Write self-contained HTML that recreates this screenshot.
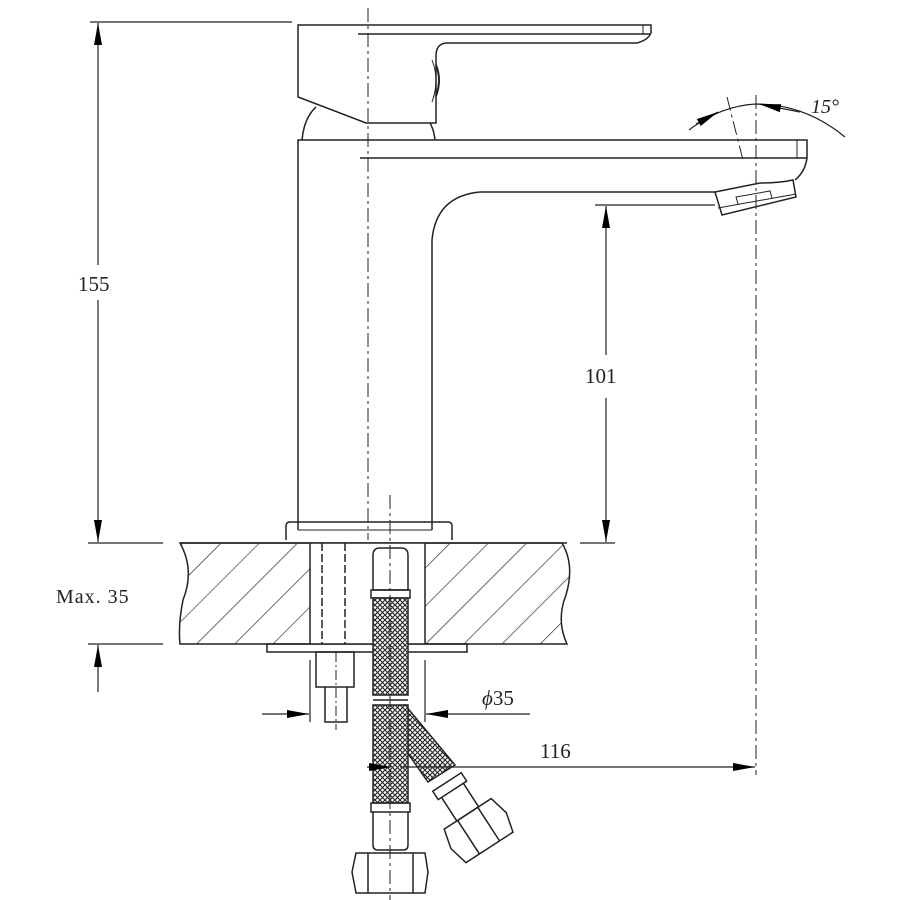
<!DOCTYPE html>
<html><head><meta charset="utf-8"><style>
html,body{margin:0;padding:0;background:#fff;}
svg{display:block;}
text{font-family:"Liberation Serif",serif;fill:#222;}
</style></head><body>
<svg width="900" height="900" viewBox="0 0 900 900" xmlns="http://www.w3.org/2000/svg">
<defs>
<pattern id="mesh" width="5" height="5" patternUnits="userSpaceOnUse">
<rect width="5" height="5" fill="#fff"/>
<path d="M0,0 L5,5 M5,0 L0,5" stroke="#222" stroke-width="1.1"/>
</pattern>
<pattern id="hatch" width="27" height="27" patternUnits="userSpaceOnUse" patternTransform="rotate(45)">
<line x1="0" y1="0" x2="0" y2="27" stroke="#222" stroke-width="1.3"/>
</pattern>
<marker id="ar" viewBox="0 0 22 8" refX="22" refY="4" markerWidth="22" markerHeight="8" markerUnits="userSpaceOnUse" orient="auto"><path d="M0,0 L22,4 L0,8z" fill="#000"/></marker>
</defs>
<g fill="none" stroke="#222" stroke-width="1.5">
<!-- handle -->
<path d="M298,25 L651,25 L651,33 Q648,40 637,43 L446,43 Q436,44 436,56 L436,123 L366,123 L298,97 Z" fill="#fff"/>
<line x1="358" y1="34" x2="651" y2="34"/>
<line x1="643" y1="25" x2="643" y2="34" stroke-width="1"/>
<path d="M432,60 Q440,80 432,102" stroke-width="1"/>
<path d="M436,65 Q442,80 436,96" stroke-width="2"/>
<!-- dome -->
<path d="M302,140 Q304,118 316,107" />
<path d="M430,123 Q434,130 435,140"/>
<!-- body & spout -->
<path d="M298,530 L298,140 L807,140 L807,158 Q805,172 795,180"/>
<line x1="360" y1="158" x2="807" y2="158"/>
<line x1="797" y1="140" x2="797" y2="158" stroke-width="1"/>
<path d="M432,530 L432,240 Q436,196 480,192 L715,192"/>
<path d="M715,192 L760,183 Q780,183 793,180 L796,197 L722,215 Z" fill="#fff"/>
<line x1="718" y1="208" x2="796" y2="194" stroke-width="1"/>
<path d="M738,204 L736,197 L770,191 L772,198" stroke-width="1"/>
<!-- base plate -->
<path d="M286,540 L286,526 Q286,522 290,522 L448,522 Q452,522 452,526 L452,540"/>
<line x1="298" y1="530" x2="432" y2="530" stroke-width="1"/>
<!-- counter -->
<path d="M180,543 Q195,570 183,600 Q178,625 180,644 L567,644 Q556,620 566,595 Q575,565 562,543 Z" fill="url(#hatch)"/>
<rect x="310" y="543" width="115" height="101" fill="#fff" stroke="none"/>
<line x1="310" y1="543" x2="310" y2="644"/>
<line x1="425" y1="543" x2="425" y2="644"/>
<line x1="180" y1="543" x2="567" y2="543"/>
<line x1="322" y1="543" x2="322" y2="644" stroke-dasharray="8,3"/>
<line x1="345" y1="543" x2="345" y2="644" stroke-dasharray="8,3"/>
<rect x="267" y="644" width="200" height="8"/>
<!-- nut & stud -->
<rect x="316" y="652" width="38" height="35"/>
<path d="M325,687 L325,722 L347,722 L347,687"/>
<line x1="336" y1="652" x2="336" y2="730" stroke-width="1" stroke-dasharray="10,3,2,3"/>
<!-- hoses -->
<path d="M373,555 Q373,548 380,548 L401,548 Q408,548 408,555 L408,590 L373,590 Z" fill="#fff"/>
<rect x="371" y="590" width="39" height="8"/>
<rect x="373" y="598" width="35" height="97" fill="url(#mesh)"/>
<line x1="373" y1="700" x2="408" y2="700"/>
<path d="M405,705 L455,765 L428,782 L395,735 Z" fill="url(#mesh)"/>
<rect x="373" y="705" width="35" height="98" fill="url(#mesh)"/>
<rect x="371" y="803" width="39" height="9"/>
<path d="M373,812 L373,845 Q373,850 378,850 L403,850 Q408,850 408,845 L408,812"/>
<path d="M356,853 L425,853 L428,872 L425,893 L356,893 L352,872 Z"/>
<line x1="368" y1="853" x2="368" y2="893"/><line x1="413" y1="853" x2="413" y2="893"/>
<g transform="translate(447,782) rotate(-33)">
<rect x="-17" y="0" width="34" height="10"/>
<path d="M-13,10 L-13,38 L13,38 L13,10"/>
<path d="M-28,38 L28,38 L33,58 L28,78 L-28,78 L-33,58 Z"/>
<line x1="-12" y1="38" x2="-12" y2="78"/><line x1="12" y1="38" x2="12" y2="78"/>
</g>
</g>
<!-- center lines -->
<g stroke="#222" stroke-width="1" fill="none" stroke-dasharray="14,4,3,4">
<line x1="368" y1="8" x2="368" y2="540"/>
<line x1="390" y1="495" x2="390" y2="900"/>
<line x1="756" y1="95" x2="756" y2="775"/>
<line x1="727" y1="97" x2="743" y2="160"/>
</g>
<!-- dimensions -->
<g stroke="#222" stroke-width="1.2" fill="none">
<line x1="90" y1="22" x2="292" y2="22"/>
<line x1="88" y1="543" x2="163" y2="543"/>
<line x1="98" y1="265" x2="98" y2="23" marker-end="url(#ar)"/>
<line x1="98" y1="300" x2="98" y2="542" marker-end="url(#ar)"/>
<line x1="88" y1="644" x2="163" y2="644"/>
<line x1="98" y1="692" x2="98" y2="645" marker-end="url(#ar)"/>
<line x1="595" y1="205" x2="715" y2="205"/>
<line x1="580" y1="543" x2="615" y2="543"/>
<line x1="606" y1="355" x2="606" y2="206" marker-end="url(#ar)"/>
<line x1="606" y1="398" x2="606" y2="542" marker-end="url(#ar)"/>
<line x1="310" y1="660" x2="310" y2="722"/>
<line x1="425" y1="660" x2="425" y2="722"/>
<line x1="262" y1="714" x2="309" y2="714" marker-end="url(#ar)"/>
<line x1="530" y1="714" x2="426" y2="714" marker-end="url(#ar)"/>
<line x1="400" y1="767" x2="755" y2="767" marker-end="url(#ar)"/>
<line x1="367" y1="767" x2="391" y2="767" marker-end="url(#ar)"/>
<path d="M689,130 Q720,106 756,104 Q805,104 845,137"/>
<line x1="696" y1="124" x2="718" y2="112" marker-end="url(#ar)"/>
<line x1="800" y1="112" x2="759" y2="104" marker-end="url(#ar)"/>
</g>
<text x="78" y="291" font-size="21">155</text>
<text x="585" y="383" font-size="21">101</text>
<text x="56" y="603" font-size="20" letter-spacing="1">Max. 35</text>
<text x="482" y="705" font-size="21"><tspan font-style="italic">ϕ</tspan>35</text>
<text x="540" y="758" font-size="21">116</text>
<text x="811" y="113" font-size="20" font-style="italic">15°</text>
</svg>
</body></html>
